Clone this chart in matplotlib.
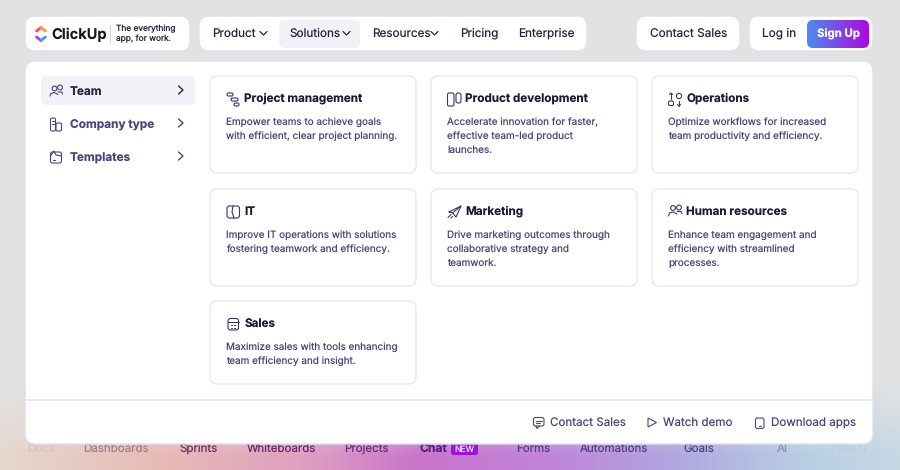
import math
import numpy as np
import matplotlib
matplotlib.use("Agg")
import matplotlib.pyplot as plt
from matplotlib import font_manager as fm
from matplotlib.ft2font import LoadFlags
from matplotlib.patches import FancyBboxPatch, Circle, Polygon

FONT = "Inter"
plt.rcParams["font.family"] = [FONT, "DejaVu Sans"]
plt.rcParams["text.hinting"] = "no_hinting"
plt.rcParams["text.hinting_factor"] = 1

nav_items = ["Product", "Solutions", "Resources", "Pricing", "Enterprise"]
side_items = ["Team", "Company type", "Templates"]
card_titles = ["Project management", "Product development", "Operations",
               "IT", "Marketing", "Human resources", "Sales"]
card_lines = [
    ["Empower teams to achieve goals", "with efficient, clear project planning."],
    ["Accelerate innovation for faster,", "effective team-led product", "launches."],
    ["Optimize workflows for increased", "team productivity and efficiency."],
    ["Improve IT operations with solutions", "fostering teamwork and efficiency."],
    ["Drive marketing outcomes through", "collaborative strategy and", "teamwork."],
    ["Enhance team engagement and", "efficiency with streamlined", "processes."],
    ["Maximize sales with tools enhancing", "team efficiency and insight."],
]
footer_items = ["Contact Sales", "Watch demo", "Download apps"]
strip_items = ["Docs", "Dashboards", "Sprints", "Whiteboards", "Projects", "Chat",
               "Forms", "Automations", "Goals", "AI", "Time tr"]

DARK = "#26253c"
TITLE = "#1d1c33"
BODY = "#4c4579"
BORDER = "#dfdff1"
CARD = "#e6e6ec"

fig = plt.figure(figsize=(9, 4.7), dpi=100)
ax = fig.add_axes([0, 0, 1, 1])
ax.set_xlim(0, 900)
ax.set_ylim(470, 0)
ax.axis("off")

# page background
xs = np.arange(900)
ys = np.arange(470)
stops_x = [0, 150, 300, 420, 550, 680, 800, 900]
stops_c = ["#e6d8cf", "#e8bdb6", "#e0a0c0", "#c874cc", "#c084d8", "#b0a8e0", "#b8cde4", "#c6d9e4"]
rgb = np.array([matplotlib.colors.to_rgb(c) for c in stops_c])
bottom = np.stack([np.interp(xs, stops_x, rgb[:, i]) for i in range(3)], axis=1)
base = np.array(matplotlib.colors.to_rgb("#e2e2e2"))
t = np.clip((ys - 385) / 70.0, 0, 1)[:, None, None]
bg = base[None, None, :] * (1 - t) + bottom[None, :, :] * t
ax.imshow(bg, extent=(0, 900, 470, 0), aspect="auto", zorder=0)
ax.set_xlim(0, 900)
ax.set_ylim(470, 0)


def box(x0, y0, x1, y1, r, fc="white", ec=BORDER, lw=1.0, z=2):
    p = FancyBboxPatch((x0, y0), x1 - x0, y1 - y0,
                       boxstyle=f"round,pad=0,rounding_size={r}",
                       fc=fc, ec=ec, lw=lw, zorder=z)
    ax.add_patch(p)
    return p


def txt(x, y, s, size, color, weight="normal", ha="left", z=6):
    # y is the visual middle of the lower-case letters; anchor on an integer
    # baseline, compensating the renderer's per-string bitmap rounding.
    B = round(y + size * 1.389 * 0.30)
    f = fm.get_font(fm.findfont(fm.FontProperties(family=FONT, weight=weight)))
    f.set_size(size, 100)
    f.set_text(s, 0, flags=LoadFlags.NO_HINTING)
    d = f.get_descent() / 64.0
    h = f.get_width_height()[1] / 64.0
    ymax = h - d
    K = math.floor(ymax) - int(h)
    yy = B - K - d
    return ax.text(x, yy, s, fontsize=size, color=color,
                   fontweight=weight, ha=ha, va="baseline", zorder=z)


def line(xv, yv, color=BODY, lw=0.8, z=6):
    ax.plot(xv, yv, color=color, lw=lw, zorder=z, solid_capstyle="round", solid_joinstyle="round")


def ring(x, y, r, color=BODY, lw=0.8, fc="none"):
    ax.add_patch(Circle((x, y), r, fc=fc, ec=color, lw=lw, zorder=6))


def rbox(x0, y0, x1, y1, r, color=BODY, lw=0.8):
    box(x0, y0, x1, y1, r, fc="none", ec=color, lw=lw, z=6)


# strip of words behind the panel
strip_x = [27, 83, 180, 247, 344, 420, 516, 580, 683, 777, 829]
strip_col = ["#d9c5bd", "#a47f88", "#6d2f5e", "#6c2a6a", "#6a2d80", "#5a1d86",
             "#5c3a8a", "#50408f", "#4a4490", "#8a93b8", "#bccbdc"]
for x, s, c in zip(strip_x, strip_items, strip_col):
    txt(x, 448.6, s, 8.3 if s != "Chat" else 8.7, c,
        weight="bold" if s == "Chat" else "normal", z=1)
box(451, 442, 478, 455, 2.5, fc="#9d12dc", ec="none", z=1)
txt(464.5, 449.5, "NEW", 6.2, "#f0d8ff", ha="center", z=1)

# top bar
box(25, 16, 190, 51, 10)
box(199, 16, 587, 51, 10)
box(636, 16, 740, 51, 10)
box(749, 16, 873, 51, 10)
box(279, 20, 360, 48, 6, fc="#f1f1f7", ec="none", z=3)

# logo
line([36.5, 41], [31, 27.5], "#ff3f8e", 2.0)
line([41, 45.5], [27.5, 31], "#ff9b2e", 2.0)
line([36.5, 41], [37, 40.5], "#b33ae6", 2.0)
line([41, 45.5], [40.5, 37], "#3f9cf2", 2.0)
txt(51.5, 34.5, "ClickUp", 10.5, "#16151f", weight="bold")
line([109.5, 109.5], [25, 43], "#d5d5dd", 0.8)
txt(116.5, 28.5, "The everything", 6.0, "#26253c")
txt(116.5, 38, "app, for work.", 6.0, "#26253c")

# nav
nav_x = [212, 289, 372, 460, 518.5]
for x, s in zip(nav_x, nav_items):
    txt(x, 33, s, 8.45, DARK)
for x in [263.5, 346.5, 434.5]:
    line([x - 3.5, x, x + 3.5], [31.5, 35, 31.5], DARK, 0.9)
txt(650, 33, "Contact Sales", 8.5, DARK)
txt(762.5, 33, "Log in", 8.5, DARK)

# sign up button with a gradient fill
btn = box(807, 20, 869, 48, 6, fc="none", ec="none", z=4)
g = np.linspace(0, 1, 200)[None, :, None]
c0 = np.array(matplotlib.colors.to_rgb("#4d8cf0"))
c1 = np.array(matplotlib.colors.to_rgb("#ab08e2"))
im = ax.imshow(c0 * (1 - g) + c1 * g, extent=(807, 869, 48, 20), aspect="auto", zorder=4)
im.set_clip_path(btn)
ax.set_xlim(0, 900)
ax.set_ylim(470, 0)
txt(838, 34, "Sign Up", 8.2, "white", weight="bold", ha="center")

# panel
box(25, 61, 873, 444, 10, z=2)
line([25.5, 872.5], [400, 400], "#e7e6f4", 1.2, z=3)

# sidebar
box(41, 76, 195, 105, 6, fc="#f1f1f7", ec="none", z=3)
for y, s, c in zip([91.5, 124.5, 157.5], side_items, [DARK, BODY, BODY]):
    txt(70, y, s, 8.5, c, weight="bold")
for y, c in zip([90, 123, 156], [DARK, BODY, BODY]):
    line([178.5, 183, 178.5], [y - 4, y, y + 4], c, 1.0)

# sidebar icons
ring(54.5, 88.5, 2.4); ring(60, 87.5, 2.4)
line([50, 51, 54, 58], [96, 93.5, 92.5, 94.5])
line([58, 62, 62.5], [92, 92, 94])
rbox(50.5, 118, 55.5, 131, 1.5); rbox(56, 123, 61.5, 131, 1.5)
line([52, 54], [121, 121]); line([52, 54], [124, 124])
rbox(50.5, 152, 61.5, 163, 2)
line([50.5, 54, 56, 61.5], [156, 151, 155, 156])
line([52.5, 55], [160, 160])

# cards
col_x = [(210, 416), (431, 637), (652, 858)]
row_y = [(76, 173), (189, 286), (301, 384)]
for i, (title, lines) in enumerate(zip(card_titles, card_lines)):
    r, c = i // 3, i % 3
    x0, x1 = col_x[c]
    y0, y1 = row_y[r]
    box(x0, y0, x1, y1, 7, ec=CARD, lw=0.9, z=3)
    txt(x0 + 34.3, y0 + 22.5, title, 8.4, TITLE, weight="bold")
    for k, l in enumerate(lines):
        txt(x0 + 16.2, y0 + 46 + 14.1 * k, l, 7.15, BODY)

IC = "#3a3660"
# project management
rbox(227, 93, 233, 96, 1.5, IC); rbox(231, 98, 238, 101, 1.5, IC); rbox(234, 103, 239, 106, 1.5, IC)
# product development
rbox(447.5, 93, 454, 106, 1.5, IC); rbox(456, 93, 461, 103, 2.2, IC)
# operations
ring(679, 96, 2.6, IC); rbox(668.5, 101, 673.5, 105.5, 1.5, IC)
line([671, 671], [93, 99], IC); line([669.5, 671, 672.5], [94.5, 93, 94.5], IC)
line([679, 679], [101, 106], IC); line([677.5, 679, 680.5], [104.5, 106, 104.5], IC)
# IT
rbox(227, 206, 239.5, 218, 2.5, IC)
line([233, 232, 234], [206, 212, 218], IC)
# marketing
line([449, 461, 456, 452.5, 449], [212, 206, 217, 213, 212], IC)
line([452.5, 461], [213, 206], IC)
line([448, 451], [217.5, 214.5], IC); line([451, 452.5], [218, 216.5], IC)
# human resources
ring(673, 208, 2.4, IC); ring(679, 207.5, 2.4, IC)
line([668.5, 669.5, 673, 677], [216, 213, 212, 214], IC)
line([677, 681, 682], [211.5, 211.5, 213.5], IC)
# sales
rbox(228, 318.5, 238.5, 330, 2.5, IC)
line([228, 238.5], [322, 322], IC)
line([231, 232], [325, 325], IC); line([234, 235], [325, 325], IC)
line([231, 232], [327.5, 327.5], IC); line([234, 235], [327.5, 327.5], IC)

# footer
for x, s in zip([549.5, 663, 771], footer_items):
    txt(x, 423, s, 8.35, BODY)
rbox(533.5, 417.5, 544, 426, 2)
line([536, 537, 539.5], [426, 428.5, 426])
line([536, 541.5], [420.5, 420.5]); line([536, 540], [423, 423])
ax.add_patch(Polygon([[648, 418], [656.5, 422.5], [648, 427]], closed=True, fc="none", ec=BODY, lw=0.8, zorder=6))
rbox(755.5, 418, 764, 428.5, 2)
line([759, 761], [426, 426])

fig.savefig("out.png", dpi=100)
